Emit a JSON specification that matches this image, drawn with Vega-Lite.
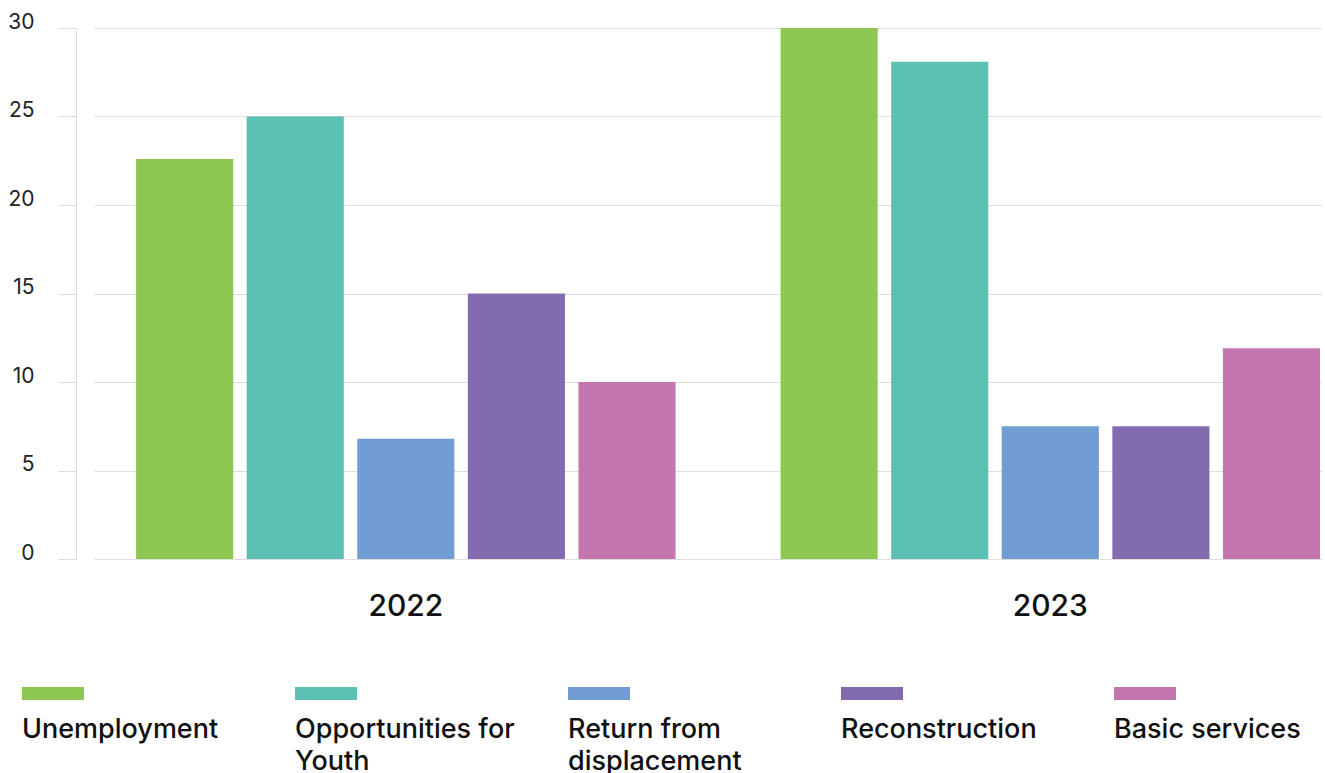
{
  "$schema": "https://vega.github.io/schema/vega-lite/v6.json",
  "padding": {"left": 7, "top": 11, "right": 0, "bottom": 0},
  "background": "white",
  "config": {"view": {"stroke": null}, "font": "Inter", "concat": {"spacing": 65}},
  "datasets": {
    "bars": [
      {"year": "2022", "category": "Unemployment", "value": 22.6},
      {"year": "2022", "category": "Opportunities for Youth", "value": 25.0},
      {"year": "2022", "category": "Return from displacement", "value": 6.8},
      {"year": "2022", "category": "Reconstruction", "value": 15.0},
      {"year": "2022", "category": "Basic services", "value": 10.0},
      {"year": "2023", "category": "Unemployment", "value": 30.0},
      {"year": "2023", "category": "Opportunities for Youth", "value": 28.1},
      {"year": "2023", "category": "Return from displacement", "value": 7.5},
      {"year": "2023", "category": "Reconstruction", "value": 7.5},
      {"year": "2023", "category": "Basic services", "value": 11.9}
    ],
    "legend": [
      {"category": "Unemployment", "label": "Unemployment"},
      {"category": "Opportunities for Youth", "label": "Opportunities for\nYouth"},
      {"category": "Return from displacement", "label": "Return from\ndisplacement"},
      {"category": "Reconstruction", "label": "Reconstruction"},
      {"category": "Basic services", "label": "Basic services"}
    ]
  },
  "vconcat": [
    {
      "data": {"name": "bars"},
      "width": 1228,
      "height": 531,
      "mark": {"type": "bar"},
      "encoding": {
        "x": {
          "field": "year", "type": "nominal",
          "scale": {"paddingInner": 0.163, "paddingOuter": 0.0342, "align": 0.955},
          "axis": {"title": null, "labelAngle": 0, "domain": false, "ticks": false, "tickSize": 0, "grid": false,
                   "labelFontSize": 30, "labelFontWeight": 500, "labelColor": "#111", "labelBaseline": "alphabetic", "labelPadding": 56}
        },
        "xOffset": {
          "field": "category", "type": "nominal",
          "sort": ["Unemployment", "Opportunities for Youth", "Return from displacement", "Reconstruction", "Basic services"],
          "scale": {"paddingInner": 0.122, "paddingOuter": 0}
        },
        "y": {
          "field": "value", "type": "quantitative",
          "scale": {"domain": [0, 30]},
          "axis": {"title": null, "values": [0, 5, 10, 15, 20, 25, 30], "offset": 18, "tickSize": 18,
                   "tickColor": "#dddddd", "domainColor": "#dddddd", "gridColor": "#dddddd",
                   "labelFontSize": 21, "labelColor": "#222", "labelPadding": 24, "labelBaseline": "alphabetic"}
        },
        "color": {
          "field": "category", "type": "nominal",
          "scale": {
            "domain": ["Unemployment", "Opportunities for Youth", "Return from displacement", "Reconstruction", "Basic services"],
            "range": ["#8DC650", "#5CC1B3", "#729DD2", "#826CAF", "#C476AE"]
          },
          "legend": null
        }
      }
    },
    {
      "data": {"name": "legend"},
      "width": 1228,
      "height": 13,
      "encoding": {
        "x": {
          "field": "category", "type": "nominal",
          "sort": ["Unemployment", "Opportunities for Youth", "Return from displacement", "Reconstruction", "Basic services"],
          "scale": {"type": "point", "padding": 0, "range": [-72, 1020]},
          "axis": null
        }
      },
      "layer": [
        {
          "mark": {"type": "point", "shape": "M0,-0.21H2V0.21H0Z", "size": 3844, "filled": true, "opacity": 1, "strokeWidth": 0},
          "encoding": {
            "color": {
              "field": "category", "type": "nominal",
              "scale": {
                "domain": ["Unemployment", "Opportunities for Youth", "Return from displacement", "Reconstruction", "Basic services"],
                "range": ["#8DC650", "#5CC1B3", "#729DD2", "#826CAF", "#C476AE"]
              },
              "legend": null
            }
          }
        },
        {
          "mark": {"type": "text", "align": "left", "baseline": "alphabetic", "dy": 44, "fontSize": 27, "fontWeight": 500,
                   "lineBreak": "\n", "lineHeight": 32, "color": "#111"},
          "encoding": {"text": {"field": "label"}}
        }
      ]
    }
  ]
}
